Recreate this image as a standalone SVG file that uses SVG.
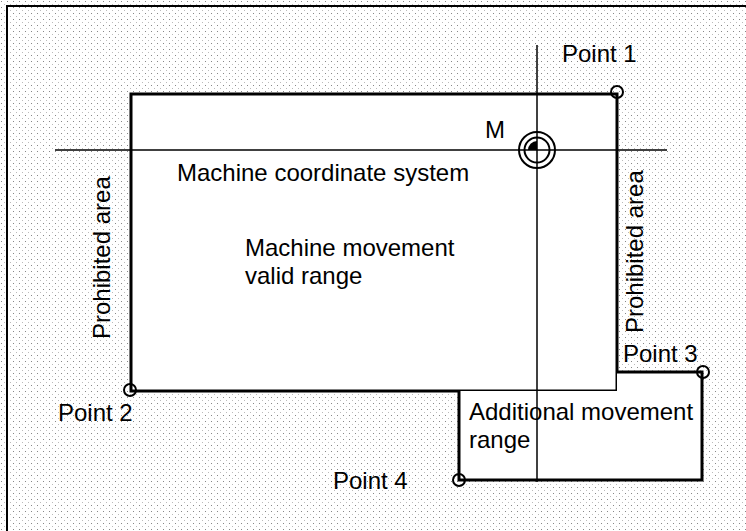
<svg xmlns="http://www.w3.org/2000/svg" width="746" height="531" viewBox="0 0 746 531">
<style>
.t{font-family:"Liberation Sans",Arial,sans-serif;font-size:24px;fill:#000}
.thick{fill:none;stroke:#000;stroke-width:3}
.thin{fill:none;stroke:#000;stroke-width:1.5}
.pt{fill:none;stroke:#000;stroke-width:2}
</style>
<defs>
<pattern id="dots" width="6" height="6" patternUnits="userSpaceOnUse">
<rect width="6" height="6" fill="#fff"/>
<rect x="1" y="1" width="1" height="1" fill="#888"/>
<rect x="4" y="4" width="1" height="1" fill="#bbb"/>
</pattern>
</defs>
<rect width="746" height="531" fill="url(#dots)"/>
<path d="M7,531 V6 H746" fill="none" stroke="#000" stroke-width="2"/>
<g id="valid-range">
<rect x="131" y="94" width="486" height="297" fill="#fff" stroke="#000" stroke-width="3"/>
</g>
<g id="additional-range">
<path d="M459,391 V480 H702 V372 H617 V391 Z" fill="#fff" stroke="none"/>
<path d="M459,391 V480 H702 V372 H617" class="thick"/>
</g>
<g id="axes">
<line x1="537" y1="45" x2="537" y2="482" class="thin"/>
<line x1="55" y1="150" x2="667" y2="150" class="thin"/>
</g>
<g id="origin-M">
<circle cx="537" cy="150" r="18" fill="none" stroke="#000" stroke-width="2"/>
<circle cx="537" cy="150" r="12.5" fill="none" stroke="#000" stroke-width="2"/>
<path d="M537,150 L528,150 A9,9 0 0 1 537,141 Z" fill="#000"/>
<text class="t" x="485" y="138">M</text>
</g>
<g id="point1"><circle cx="617" cy="92" r="6" class="pt"/><text class="t" x="562" y="62">Point 1</text></g>
<g id="point2"><circle cx="130" cy="390" r="6" class="pt"/><text class="t" x="58" y="421">Point 2</text></g>
<g id="point3"><circle cx="703" cy="372" r="6" class="pt"/><text class="t" x="623" y="362">Point 3</text></g>
<g id="point4"><circle cx="459" cy="480" r="6" class="pt"/><text class="t" x="333" y="489">Point 4</text></g>
<g id="labels">
<text class="t" x="177" y="181">Machine coordinate system</text>
<text class="t" x="245" y="256">Machine movement</text>
<text class="t" x="245" y="284">valid range</text>
<text class="t" x="469" y="420">Additional movement</text>
<text class="t" x="469" y="448">range</text>
<text class="t" transform="translate(110,339) rotate(-90)">Prohibited area</text>
<text class="t" transform="translate(643,333) rotate(-90)">Prohibited area</text>
</g>
</svg>
